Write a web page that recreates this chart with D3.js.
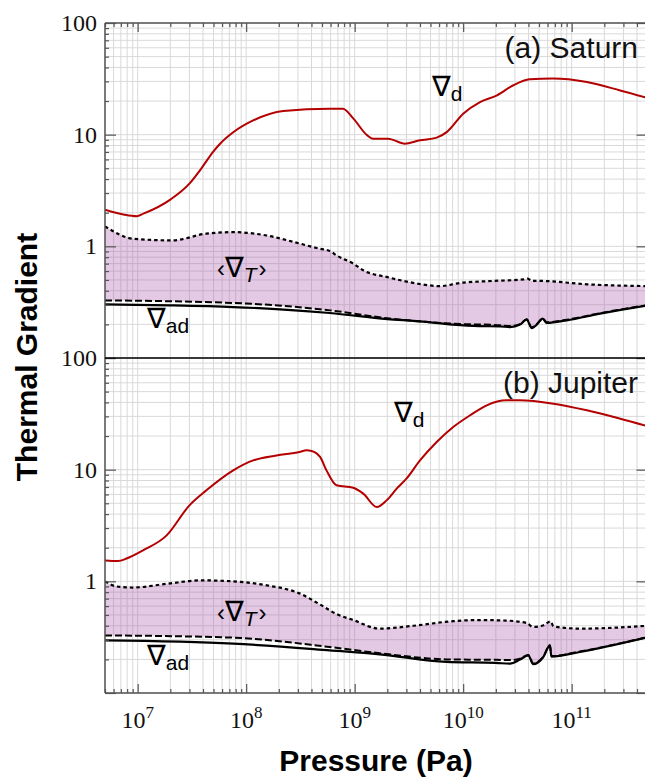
<!DOCTYPE html>
<html><head><meta charset="utf-8">
<script src="https://cdn.jsdelivr.net/npm/d3@7"></script>
<style>body{margin:0;background:#fff}svg{display:block}</style>
</head><body>
<svg id="c" width="645" height="778"></svg>
<script>
// ---------- data ----------
const xTickExps = [7, 8, 9, 10, 11];
const yTickVals = [1, 10, 100];
const yTickLabels = ["1", "10", "100"];
const panelTitles = ["(a) Saturn", "(b) Jupiter"];
const xTitle = "Pressure (Pa)";
const yTitle = "Thermal Gradient";

// Saturn: nabla_d (red)
const satDP = [5e6, 7.4e6, 9.8e6, 1.13e7, 2.0e7, 3.0e7, 3.75e7, 5.0e7, 5.75e7, 7.6e7, 1.16e8, 2.2e8, 5.9e8, 7.8e8, 9.7e8, 1.3e9, 1.48e9, 2.03e9, 2.9e9, 4.0e9, 5.7e9, 7.1e9, 1.0e10, 1.43e10, 2.05e10, 2.9e10, 4.1e10, 6.7e10, 1.38e11, 2.8e11, 5e11];
const satDV = [2.13, 1.93, 1.86, 1.96, 2.62, 3.64, 4.79, 7.1, 8.3, 10.5, 13.4, 16.3, 17.1, 17.1, 14.0, 9.9, 9.2, 9.2, 8.3, 8.9, 9.4, 10.6, 15.4, 19.6, 22.5, 27.7, 31.3, 31.8, 29.6, 24.9, 21.3];
// Saturn: <nabla_T> upper bound (dotted)
const satTopP = [5e6, 9.1e6, 2.1e7, 4.3e7, 7.6e7, 1.55e8, 3.1e8, 4.8e8, 5.9e8, 6.8e8, 9.7e8, 1.2e9, 2.0e9, 4.0e9, 6.1e9, 9.4e9, 1.9e10, 3.6e10, 3.9e10, 4.3e10, 5.1e10, 1.38e11, 5e11];
const satTopV = [1.51, 1.17, 1.13, 1.30, 1.34, 1.25, 1.06, 0.95, 0.91, 0.83, 0.70, 0.61, 0.53, 0.46, 0.44, 0.47, 0.49, 0.505, 0.515, 0.49, 0.49, 0.457, 0.44];
// Saturn: <nabla_T> lower bound (dashed)
const satLoP = [5e6, 7.6e7, 5.9e8, 2.0e9, 8.0e9, 2.2e10, 2.7e10, 3.34e10, 3.85e10, 4.29e10, 4.77e10, 5.41e10, 5.89e10, 9.0e10, 1.82e11, 5e11];
const satLoV = [0.328, 0.311, 0.267, 0.227, 0.203, 0.196, 0.193, 0.201, 0.222, 0.188, 0.201, 0.226, 0.209, 0.220, 0.252, 0.298];
// Saturn: nabla_ad (solid)
const satAdP = [5e6, 2e7, 7.6e7, 2.05e8, 5.9e8, 2.0e9, 4.0e9, 8.0e9, 1.4e10, 2.2e10, 2.7e10, 3.34e10, 3.85e10, 4.29e10, 4.77e10, 5.41e10, 5.89e10, 9.0e10, 1.82e11, 5e11];
const satAdV = [0.302, 0.296, 0.286, 0.273, 0.253, 0.223, 0.213, 0.199, 0.193, 0.192, 0.189, 0.199, 0.221, 0.1855, 0.199, 0.225, 0.206, 0.2175, 0.2495, 0.295];

// Jupiter: nabla_d (red)
const jupDP = [5e6, 6.6e6, 7.9e6, 1.13e7, 1.85e7, 3.0e7, 4.3e7, 7.6e7, 1.16e8, 1.9e8, 3.1e8, 3.6e8, 4.0e8, 4.8e8, 5.5e8, 6.8e8, 9.7e8, 1.2e9, 1.6e9, 1.97e9, 2.44e9, 3.0e9, 4.0e9, 5.7e9, 8.1e9, 1.16e10, 1.65e10, 2.5e10, 3.3e10, 6.8e10, 1.38e11, 2.8e11, 5e11];
const jupDV = [1.54, 1.52, 1.60, 1.90, 2.58, 4.79, 6.53, 9.86, 12.1, 13.4, 14.4, 14.9, 14.7, 13.0, 9.86, 7.24, 6.9, 6.1, 4.63, 5.31, 6.76, 8.31, 12.1, 17.7, 24.1, 30.7, 37.7, 41.8, 41.8, 39.0, 34.0, 28.6, 24.5];
// Jupiter: <nabla_T> upper bound (dotted)
const jupTopP = [5e6, 6.4e6, 9.1e6, 1.85e7, 3.8e7, 7.6e7, 1.55e8, 3.1e8, 4.8e8, 6.8e8, 9.7e8, 1.7e9, 3.5e9, 8.1e9, 1.43e10, 2.5e10, 3.85e10, 4.4e10, 5.5e10, 6.4e10, 6.8e10, 1.19e11, 5e11];
const jupTopV = [1.0, 0.90, 0.88, 0.95, 1.02, 1.00, 0.92, 0.78, 0.62, 0.51, 0.45, 0.377, 0.40, 0.44, 0.45, 0.445, 0.423, 0.39, 0.404, 0.438, 0.395, 0.377, 0.40];
// Jupiter: <nabla_T> lower bound (dashed)
const jupLoP = [5e6, 7.6e7, 5.9e8, 1.7e9, 7.0e9, 2.0e10, 2.7e10, 3.34e10, 3.98e10, 4.43e10, 5.48e10, 6.31e10, 6.5e10, 1.19e11, 5e11];
const jupLoV = [0.328, 0.313, 0.258, 0.227, 0.200, 0.198, 0.197, 0.203, 0.219, 0.184, 0.212, 0.268, 0.214, 0.235, 0.317];
// Jupiter: nabla_ad (solid)
const jupAdP = [5e6, 7.6e7, 5.9e8, 1.7e9, 7.0e9, 2.0e10, 2.7e10, 3.34e10, 3.98e10, 4.43e10, 5.48e10, 6.31e10, 6.5e10, 1.19e11, 5e11];
const jupAdV = [0.296, 0.277, 0.241, 0.222, 0.190, 0.186, 0.183, 0.199, 0.2175, 0.181, 0.210, 0.267, 0.212, 0.233, 0.315];

// ---------- layout ----------
const svg = d3.select("#c");
const X0 = 105, X1 = 647.5;
const x = d3.scaleLog().domain([5e6, 5e11]).range([X0, X1]);
const panelBox = [{ top: 23, bottom: 358 }, { top: 358, bottom: 693 }];
const series = [
  { d: [satDP, satDV], top: [satTopP, satTopV], lo: [satLoP, satLoV], ad: [satAdP, satAdV] },
  { d: [jupDP, jupDV], top: [jupTopP, jupTopV], lo: [jupLoP, jupLoV], ad: [jupAdP, jupAdV] }
];

const xMajor = xTickExps.map(e => Math.pow(10, e));
const xMinor = [];
for (let e = 6; e <= 11; e++) for (let m = 2; m <= 9; m++) { const v = m * Math.pow(10, e); if (v >= 5e6 && v <= 5e11) xMinor.push(v); }
const yMajor = [0.1, 1, 10, 100];
const yMinor = [];
for (let e = -1; e <= 1; e++) for (let m = 2; m <= 9; m++) yMinor.push(m * Math.pow(10, e));

const zip = (a, b) => a.map((v, i) => [v, b[i]]);
const FRAME = "#555";

panelBox.forEach((pb, i) => {
  const y = d3.scaleLog().domain([0.1, 100]).range([pb.bottom, pb.top]);
  const g = svg.append("g");
  const clipId = "clip" + i;
  svg.append("clipPath").attr("id", clipId).append("rect")
    .attr("x", X0).attr("y", pb.top).attr("width", X1 - X0).attr("height", pb.bottom - pb.top);

  // grid
  const grid = g.append("g").attr("stroke", "#d9d9d9").attr("stroke-width", 1);
  xMajor.concat(xMinor).forEach(v => grid.append("line")
    .attr("x1", x(v)).attr("x2", x(v)).attr("y1", pb.top).attr("y2", pb.bottom));
  yMajor.concat(yMinor).forEach(v => grid.append("line")
    .attr("x1", X0).attr("x2", X1).attr("y1", y(v)).attr("y2", y(v)));

  const s = series[i];
  const line = d3.line().x(d => x(d[0])).y(d => y(d[1])).curve(d3.curveMonotoneX);
  const plot = g.append("g").attr("clip-path", `url(#${clipId})`);

  // fill between upper and lower bounds
  const up = zip(s.top[0], s.top[1]);
  const lo = zip(s.lo[0], s.lo[1]);
  const upPath = line(up);
  const loPath = d3.line().x(d => x(d[0])).y(d => y(d[1])).curve(d3.curveCatmullRom)(lo.slice().reverse());
  plot.append("path").attr("d", upPath + "L" + loPath.slice(1) + "Z")
    .attr("fill", "#a64ca6").attr("fill-opacity", 0.3).attr("stroke", "none");

  plot.append("path").attr("d", line(zip(s.ad[0], s.ad[1])))
    .attr("fill", "none").attr("stroke", "#000").attr("stroke-width", 2.2);
  plot.append("path").attr("d", line(lo))
    .attr("fill", "none").attr("stroke", "#000").attr("stroke-width", 2).attr("stroke-dasharray", "7,3");
  plot.append("path").attr("d", upPath)
    .attr("fill", "none").attr("stroke", "#000").attr("stroke-width", 2.2).attr("stroke-dasharray", "3.5,3");
  plot.append("path").attr("d", line(zip(s.d[0], s.d[1])))
    .attr("fill", "none").attr("stroke", "#b40000").attr("stroke-width", 2);

  // left axis (ticks inward)
  const la = g.append("g").attr("transform", `translate(${X0},0)`);
  la.append("g").call(d3.axisRight(y).tickValues(yMajor).tickSize(11).tickFormat(""));
  la.append("g").call(d3.axisRight(y).tickValues(yMinor).tickSize(4).tickFormat(""));
  la.selectAll(".domain").remove();
  la.selectAll("line").attr("stroke", FRAME).attr("stroke-width", 1.2);
  // right axis (ticks inward)
  const ra = g.append("g").attr("transform", `translate(${X1},0)`);
  ra.append("g").call(d3.axisLeft(y).tickValues(yMajor).tickSize(11).tickFormat(""));
  ra.selectAll(".domain").remove();
  ra.selectAll("line").attr("stroke", FRAME).attr("stroke-width", 1.2);

  // y tick labels
  yTickVals.forEach((v, k) => {
    g.append("text").attr("x", 97).attr("y", y(v)).attr("dy", "0.33em")
      .attr("text-anchor", "end").attr("font-family", "Liberation Serif, Times New Roman, serif")
      .attr("font-size", 24).attr("fill", "#111").text(yTickLabels[k]);
  });

  // panel title
  g.append("text").attr("x", 638).attr("y", pb.top + 35).attr("text-anchor", "end")
    .attr("font-family", "Liberation Sans, Arial, sans-serif").attr("font-size", 30).attr("fill", "#111")
    .text(panelTitles[i]);
});

// top frame with ticks (top panel)
const ta = svg.append("g").attr("transform", "translate(0,23)");
ta.append("g").call(d3.axisBottom(x).tickValues(xMajor).tickSize(9).tickFormat(""));
ta.append("g").call(d3.axisBottom(x).tickValues(xMinor).tickSize(4).tickFormat(""));
ta.selectAll(".domain").remove();
ta.selectAll("line").attr("stroke", FRAME).attr("stroke-width", 1.2);
// bottom axis (bottom panel)
const ba = svg.append("g").attr("transform", "translate(0,693)");
ba.append("g").call(d3.axisTop(x).tickValues(xMajor).tickSize(9).tickFormat(""));
ba.append("g").call(d3.axisTop(x).tickValues(xMinor).tickSize(4).tickFormat(""));
ba.selectAll(".domain").remove();
ba.selectAll("line").attr("stroke", FRAME).attr("stroke-width", 1.2);

// frame lines
svg.append("line").attr("x1", X0).attr("x2", X1).attr("y1", 23).attr("y2", 23).attr("stroke", FRAME).attr("stroke-width", 1.5);
svg.append("line").attr("x1", X0).attr("x2", X1).attr("y1", 693).attr("y2", 693).attr("stroke", FRAME).attr("stroke-width", 1.5);
svg.append("line").attr("x1", X0).attr("x2", X0).attr("y1", 23).attr("y2", 693).attr("stroke", FRAME).attr("stroke-width", 1.5);
svg.append("line").attr("x1", X0).attr("x2", X1).attr("y1", 358).attr("y2", 358).attr("stroke", "#000").attr("stroke-width", 1.5);

// x tick labels 10^n
xTickExps.forEach(e => {
  const t = svg.append("text").attr("x", x(Math.pow(10, e))).attr("y", 728).attr("text-anchor", "middle")
    .attr("font-family", "Liberation Serif, Times New Roman, serif").attr("font-size", 24).attr("fill", "#111");
  t.append("tspan").text("10");
  t.append("tspan").attr("font-size", 17).attr("dy", -10).text(String(e));
});

// axis titles
svg.append("text").attr("transform", "translate(37,357) rotate(-90)").attr("text-anchor", "middle")
  .attr("font-family", "Liberation Sans, Arial, sans-serif").attr("font-weight", "bold").attr("font-size", 30)
  .attr("fill", "#000").text(yTitle);
svg.append("text").attr("x", 376).attr("y", 771).attr("text-anchor", "middle")
  .attr("font-family", "Liberation Sans, Arial, sans-serif").attr("font-weight", "bold").attr("font-size", 30)
  .attr("fill", "#000").text(xTitle);

// annotations
const FONT = "Liberation Sans, DejaVu Sans, Arial, sans-serif";
function nabla(xp, yp, sub, italicSub, brackets) {
  const t = svg.append("text").attr("x", xp).attr("y", yp).attr("font-family", FONT).attr("fill", "#000").attr("font-size", 28);
  if (brackets) t.append("tspan").attr("font-size", 24).attr("dx", 0).text("\u2039");
  t.append("tspan").text("\u2207");
  t.append("tspan").attr("font-size", 21).attr("dy", 5).attr("font-style", italicSub ? "italic" : "normal").text(sub);
  if (brackets) t.append("tspan").attr("font-size", 24).attr("dy", -5).attr("dx", 2).text("\u203A");
}
nabla(432, 96, "d", false, false);
nabla(394, 422, "d", false, false);
nabla(217, 277, "T", true, true);
nabla(217, 621, "T", true, true);
nabla(147, 328, "ad", false, false);
nabla(147, 665, "ad", false, false);
</script>
</body></html>
